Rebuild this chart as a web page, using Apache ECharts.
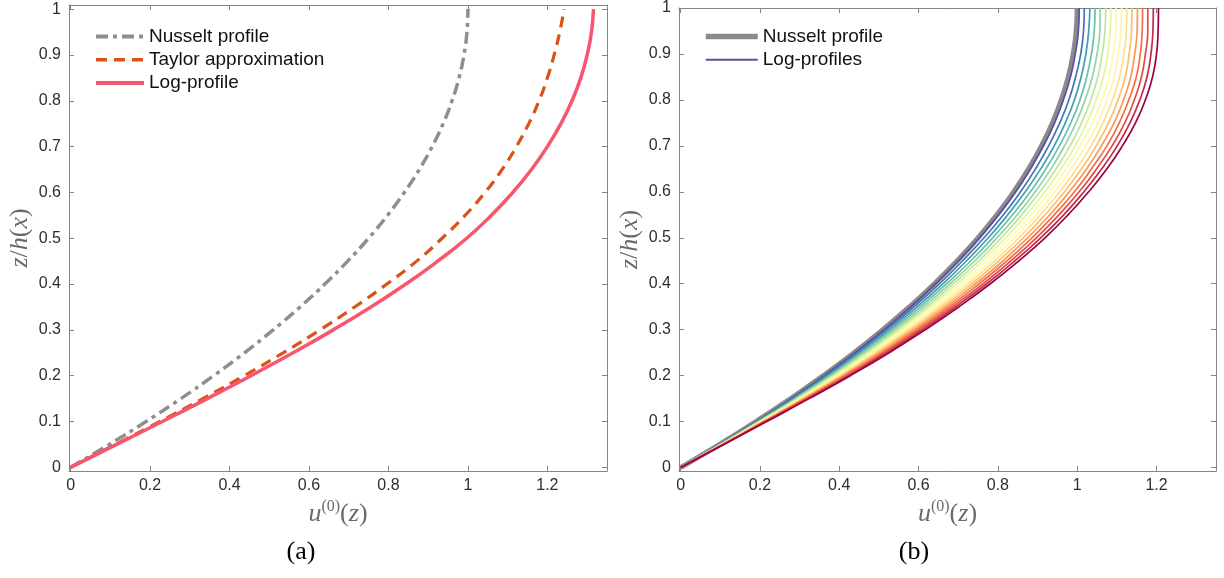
<!DOCTYPE html>
<html>
<head>
<meta charset="utf-8">
<script src="https://cdn.jsdelivr.net/npm/echarts@6/dist/echarts.min.js"></script>
<style>
html,body{margin:0;padding:0;background:#fff;}
#chart{width:1224px;height:578px;}
</style>
</head>
<body>
<div id="chart"></div>
<script>
// ---------- data ----------
// vertical coordinate z/h(x) shared by all curves
const zLevels = [0,0.05,0.1,0.15,0.2,0.25,0.3,0.35,0.4,0.45,0.5,0.55,0.6,0.65,0.7,0.75,0.8,0.85,0.9,0.95,1];
// u^(0)(z) values, panel (a)
const nusseltU = [0,0.0975,0.19,0.2775,0.36,0.4375,0.51,0.5775,0.64,0.6975,0.75,0.7975,0.84,0.8775,0.91,0.9375,0.96,0.9775,0.99,0.9975,1];
const taylorU = [0,0.113,0.225,0.333,0.437,0.535,0.628,0.715,0.796,0.871,0.935,0.993,1.043,1.086,1.122,1.153,1.179,1.2,1.217,1.231,1.242];
const logProfileU = [0,0.116,0.231,0.344,0.454,0.56,0.661,0.756,0.844,0.924,0.997,1.059,1.113,1.16,1.2,1.234,1.262,1.284,1.3,1.311,1.316];
// panel (b): family of log-profiles, innermost (purple) to outermost (dark red)
const logProfilesU = [
  [0,.098,.191,.279,.362,.440,.513,.581,.643,.701,.754,.802,.845,.882,.915,.943,.965,.983,.995,1.003,1.005],
  [0,.099,.192,.282,.366,.445,.520,.589,.653,.711,.765,.814,.857,.895,.928,.956,.979,.996,1.009,1.016,1.018],
  [0,.099,.194,.285,.371,.451,.527,.597,.662,.721,.776,.825,.869,.908,.942,.970,.993,1.010,1.022,1.029,1.032],
  [0,.100,.196,.288,.375,.457,.534,.605,.671,.732,.787,.837,.882,.921,.955,.984,1.007,1.024,1.036,1.043,1.045],
  [0,.101,.198,.291,.380,.463,.541,.613,.680,.742,.798,.849,.894,.934,.968,.997,1.020,1.038,1.050,1.057,1.058],
  [0,.102,.199,.294,.384,.468,.548,.621,.689,.752,.809,.860,.906,.947,.982,1.011,1.034,1.052,1.063,1.070,1.072],
  [0,.102,.201,.297,.388,.474,.554,.629,.698,.762,.820,.872,.919,.959,.995,1.024,1.048,1.066,1.077,1.083,1.085],
  [0,.103,.203,.300,.393,.480,.561,.637,.708,.772,.831,.884,.931,.972,1.008,1.038,1.062,1.080,1.091,1.097,1.098],
  [0,.104,.205,.303,.397,.486,.568,.646,.717,.782,.842,.896,.943,.985,1.021,1.052,1.075,1.093,1.104,1.110,1.112],
  [0,.105,.206,.306,.402,.491,.575,.654,.726,.792,.853,.907,.956,.998,1.035,1.065,1.089,1.107,1.118,1.124,1.125],
  [0,.105,.208,.309,.406,.497,.582,.662,.735,.802,.864,.919,.968,1.011,1.048,1.079,1.103,1.121,1.131,1.137,1.138],
  [0,.106,.210,.312,.411,.503,.589,.670,.744,.813,.875,.931,.980,1.024,1.061,1.093,1.117,1.135,1.145,1.151,1.152],
  [0,.107,.211,.315,.415,.509,.596,.678,.753,.823,.886,.942,.993,1.036,1.075,1.106,1.130,1.149,1.159,1.164,1.165],
  [0,.108,.213,.318,.420,.514,.603,.686,.763,.833,.897,.954,1.005,1.049,1.088,1.120,1.144,1.162,1.172,1.178,1.178],
  [0,.108,.215,.321,.424,.520,.610,.694,.772,.843,.908,.966,1.017,1.062,1.101,1.133,1.158,1.176,1.186,1.191,1.192],
  [0,.109,.217,.324,.428,.526,.617,.702,.781,.853,.919,.977,1.029,1.075,1.114,1.147,1.172,1.190,1.200,1.204,1.205]
];
// tick labels
const xTicks = [0,0.2,0.4,0.6,0.8,1,1.2];
const yTicks = [0,0.1,0.2,0.3,0.4,0.5,0.6,0.7,0.8,0.9,1];
const legendLabels = {
  nusseltA: 'Nusselt profile',
  taylorA: 'Taylor approximation',
  logA: 'Log-profile',
  nusseltB: 'Nusselt profile',
  log0: 'Log-profiles'
};

// ---------- styles ----------
const profileColors = ['#5e4fa2','#4175b4','#439bb5','#66c2a5','#94d4a4','#bee5a0','#e6f598','#f7fcb2',
  '#fff5ae','#fee08b','#fdbe6f','#fa9857','#f46d43','#df4d4b','#c32a4b','#9e0142'];
const AXIS_COLOR = '#858585';
const LABEL_COLOR = '#2e2e2e';
const NAME_COLOR = '#6a6a6a';
const SANS = '"Liberation Sans", Arial, sans-serif';
const SERIF = '"Liberation Serif", "DejaVu Serif", serif';

function pairs(us, zs) { return us.map((u, i) => [u, zs[i]]); }

function xAxisCfg(gridIndex, position, showLabels) {
  return {
    type: 'value', gridIndex: gridIndex, position: position,
    min: -0.004, max: 1.35,
    splitLine: {show: false},
    axisLine: {show: true, onZero: false, lineStyle: {color: AXIS_COLOR, width: 1}},
    axisTick: {show: true, inside: true, length: 5, customValues: xTicks, lineStyle: {color: AXIS_COLOR}},
    axisLabel: {show: showLabels, customValues: xTicks, margin: 7, color: LABEL_COLOR, fontSize: 16, fontFamily: SANS},
    name: showLabels ? '{u|u}{s|(0)}{p|(}{u|z}{p|)}' : '',
    nameLocation: 'middle', nameGap: 22,
    nameTextStyle: {
      color: NAME_COLOR,
      rich: {
        u: {fontFamily: SERIF, fontStyle: 'italic', fontSize: 26, color: NAME_COLOR, lineHeight: 30},
        p: {fontFamily: SERIF, fontSize: 26, color: NAME_COLOR, lineHeight: 30},
        s: {fontFamily: SERIF, fontSize: 16, color: NAME_COLOR, lineHeight: 16, verticalAlign: 'top'}
      }
    }
  };
}
function yAxisCfg(gridIndex, position, showLabels, ymin, ymax) {
  return {
    type: 'value', gridIndex: gridIndex, position: position,
    min: ymin, max: ymax,
    splitLine: {show: false},
    axisLine: {show: true, onZero: false, lineStyle: {color: AXIS_COLOR, width: 1}},
    axisTick: {show: true, inside: true, length: 5, customValues: yTicks, lineStyle: {color: AXIS_COLOR}},
    axisLabel: {show: showLabels, customValues: yTicks, margin: 8, color: LABEL_COLOR, fontSize: 16, fontFamily: SANS},
    name: showLabels ? '{i|z}{p|/}{i|h}{p|(}{i|x}{p|)}' : '',
    nameLocation: 'middle', nameGap: 36,
    nameTextStyle: {
      color: NAME_COLOR,
      rich: {
        i: {fontFamily: SERIF, fontStyle: 'italic', fontSize: 26, color: NAME_COLOR},
        p: {fontFamily: SERIF, fontSize: 26, color: NAME_COLOR}
      }
    }
  };
}

const series = [
  {name: 'nusseltA', type: 'line', xAxisIndex: 0, yAxisIndex: 0, data: pairs(nusseltU, zLevels),
   smooth: true, symbol: 'none', color: '#8e8e8e',
   lineStyle: {width: 3.5, color: '#8e8e8e', type: [12, 5, 4, 5]}},
  {name: 'taylorA', type: 'line', xAxisIndex: 0, yAxisIndex: 0, data: pairs(taylorU, zLevels),
   smooth: true, symbol: 'none', color: '#d95319',
   lineStyle: {width: 3.2, color: '#d95319', type: [11, 7]}},
  {name: 'logA', type: 'line', xAxisIndex: 0, yAxisIndex: 0, data: pairs(logProfileU, zLevels),
   smooth: true, symbol: 'none', color: '#f8566f',
   lineStyle: {width: 3.5, color: '#f8566f'}},
  {name: 'nusseltB', type: 'line', xAxisIndex: 2, yAxisIndex: 2, data: pairs(nusseltU, zLevels),
   smooth: true, symbol: 'none', color: '#8a8a8a',
   lineStyle: {width: 5, color: '#8a8a8a'}}
];
logProfilesU.forEach((us, k) => {
  series.push({
    name: 'log' + k, type: 'line', xAxisIndex: 2, yAxisIndex: 2, data: pairs(us, zLevels),
    smooth: true, symbol: 'none', color: profileColors[k],
    lineStyle: {width: 1.7, color: profileColors[k]}
  });
});

const legendCommon = {
  orient: 'vertical', itemHeight: 12, itemGap: 4.3,
  formatter: name => legendLabels[name],
  itemStyle: {opacity: 0, borderWidth: 0},
  textStyle: {fontSize: 19, fontFamily: SANS, color: '#111', lineHeight: 18},
  selectedMode: false
};

const option = {
  animation: false,
  backgroundColor: '#ffffff',
  grid: [
    {left: 69, top: 5, width: 538, height: 466, containLabel: false},
    {left: 679, top: 5, width: 537, height: 466, containLabel: false}
  ],
  xAxis: [xAxisCfg(0, 'bottom', true), xAxisCfg(0, 'top', false), xAxisCfg(1, 'bottom', true), xAxisCfg(1, 'top', false)],
  yAxis: [yAxisCfg(0, 'left', true, -0.008, 1.009), yAxisCfg(0, 'right', false, -0.008, 1.009),
          yAxisCfg(1, 'left', true, -0.0075, 1), yAxisCfg(1, 'right', false, -0.0075, 1)],
  legend: [
    Object.assign({left: 89, top: 22, itemWidth: 48, data: [
      {name: 'nusseltA', lineStyle: {width: 4}},
      {name: 'taylorA', lineStyle: {width: 3.5}},
      {name: 'logA', lineStyle: {width: 4}}
    ]}, legendCommon),
    Object.assign({left: 698, top: 22, itemWidth: 52, data: [
      {name: 'nusseltB', lineStyle: {width: 5.5}},
      {name: 'log0', lineStyle: {width: 2}}
    ]}, legendCommon)
  ],
  graphic: [
    {type: 'text', x: 301, y: 552, style: {text: '(a)', font: '26px "Liberation Serif", serif', fill: '#000', align: 'center', verticalAlign: 'middle'}},
    {type: 'text', x: 914, y: 552, style: {text: '(b)', font: '26px "Liberation Serif", serif', fill: '#000', align: 'center', verticalAlign: 'middle'}}
  ],
  series: series
};

const chart = echarts.init(document.getElementById('chart'), null, {renderer: 'canvas'});
chart.setOption(option);
</script>
</body>
</html>
